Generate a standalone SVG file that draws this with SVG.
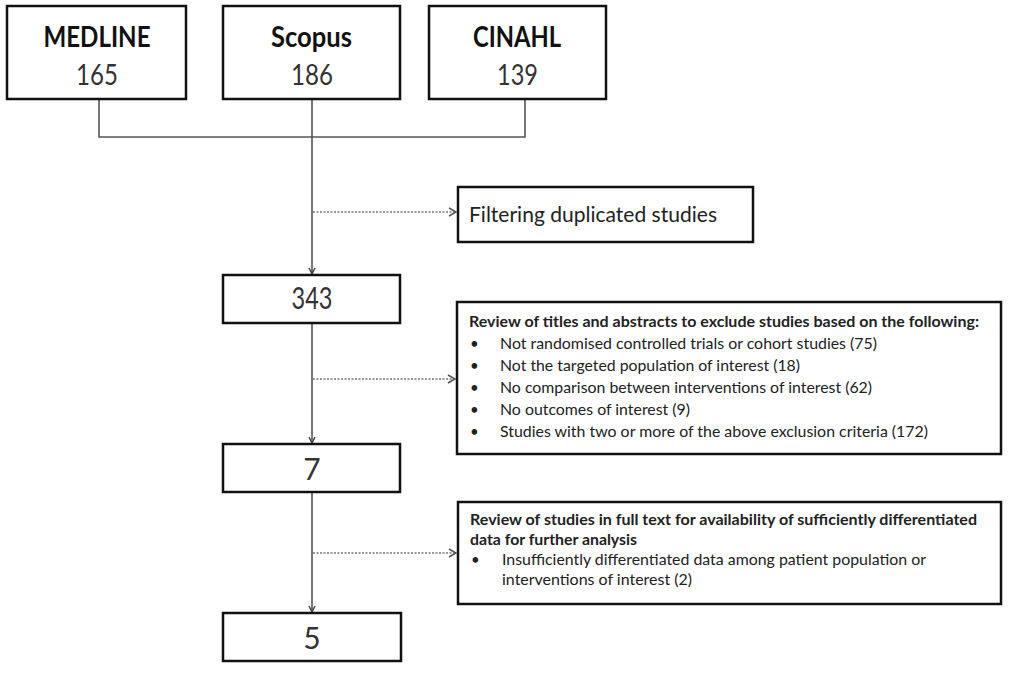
<svg xmlns="http://www.w3.org/2000/svg" width="1016" height="676" viewBox="0 0 1016 676">
<style>
.box{fill:#fff;stroke:#111;stroke-width:2.5}
.ln{fill:none;stroke:#555;stroke-width:1.6}
.dot{fill:none;stroke:#777;stroke-width:1.6;stroke-dasharray:2 1.5}
.t{font-family:Lato,"Open Sans","Liberation Sans",sans-serif;fill:#222}
.hd{font-size:28px;font-weight:bold;text-anchor:middle;fill:#111}
.num{font-size:28px;text-anchor:middle;fill:#333}
.big{font-size:30px;text-anchor:middle;fill:#333}
.s{font-size:15px}
.sb{font-size:15px;font-weight:bold}
</style>
<defs>
<marker id="ah" viewBox="0 0 8 8" refX="7" refY="4" markerWidth="8" markerHeight="8" markerUnits="userSpaceOnUse" orient="auto">
<path d="M1,1 L7,4 L1,7" fill="none" stroke="#444" stroke-width="1.5"/>
</marker>
<marker id="ah2" viewBox="0 0 10 10" refX="9" refY="5" markerWidth="10" markerHeight="10" markerUnits="userSpaceOnUse" orient="auto">
<path d="M2,1 L9,5 L2,9" fill="none" stroke="#555" stroke-width="1.6"/>
</marker>
</defs>
<rect width="1016" height="676" fill="#fff"/>
<g id="connectors">
<path class="ln" d="M99,99 V137 H525 V99"/>
<path class="ln" d="M312,99 V274" marker-end="url(#ah)"/>
<path class="ln" d="M312,323 V443" marker-end="url(#ah)"/>
<path class="ln" d="M312,492 V612" marker-end="url(#ah)"/>
<path class="dot" d="M313,212 H456" marker-end="url(#ah2)"/>
<path class="dot" d="M313,379 H455" marker-end="url(#ah2)"/>
<path class="dot" d="M313,553 H456" marker-end="url(#ah2)"/>
</g>
<g id="medline">
<rect class="box" x="7" y="6" width="179" height="93"/>
<text class="t hd" x="97" y="47" textLength="107" lengthAdjust="spacingAndGlyphs">MEDLINE</text>
<text class="t num" x="97" y="85" textLength="42" lengthAdjust="spacingAndGlyphs">165</text>
</g>
<g id="scopus">
<rect class="box" x="223" y="6" width="177" height="93"/>
<text class="t hd" x="311.5" y="47" textLength="81" lengthAdjust="spacingAndGlyphs">Scopus</text>
<text class="t num" x="312" y="85" textLength="42" lengthAdjust="spacingAndGlyphs">186</text>
</g>
<g id="cinahl">
<rect class="box" x="429" y="6" width="177" height="93"/>
<text class="t hd" x="517" y="47" textLength="88" lengthAdjust="spacingAndGlyphs">CINAHL</text>
<text class="t num" x="517.5" y="85" textLength="41" lengthAdjust="spacingAndGlyphs">139</text>
</g>
<g id="filtering">
<rect class="box" x="458" y="187" width="295" height="55"/>
<text class="t" x="469" y="222" font-size="21" textLength="248" lengthAdjust="spacingAndGlyphs">Filtering duplicated studies</text>
</g>
<g id="n343">
<rect class="box" x="223" y="275" width="177" height="48"/>
<text class="t big" x="312" y="309" textLength="41" lengthAdjust="spacingAndGlyphs">343</text>
</g>
<g id="review">
<rect class="box" x="457" y="302" width="544" height="152"/>
<text class="t sb" x="469" y="327" textLength="510" lengthAdjust="spacingAndGlyphs">Review of titles and abstracts to exclude studies based on the following:</text>
<g class="t s">
<text x="470" y="349">•</text><text x="500" y="349" textLength="377" lengthAdjust="spacingAndGlyphs">Not randomised controlled trials or cohort studies (75)</text>
<text x="470" y="371">•</text><text x="500" y="371" textLength="300" lengthAdjust="spacingAndGlyphs">Not the targeted population of interest (18)</text>
<text x="470" y="393">•</text><text x="500" y="393" textLength="372" lengthAdjust="spacingAndGlyphs">No comparison between interventions of interest (62)</text>
<text x="470" y="415">•</text><text x="500" y="415" textLength="190" lengthAdjust="spacingAndGlyphs">No outcomes of interest (9)</text>
<text x="470" y="437">•</text><text x="500" y="437" textLength="428" lengthAdjust="spacingAndGlyphs">Studies with two or more of the above exclusion criteria (172)</text>
</g>
</g>
<g id="n7">
<rect class="box" x="223" y="444" width="177" height="48"/>
<text class="t big" x="312" y="480">7</text>
</g>
<g id="fulltext">
<rect class="box" x="458" y="502" width="543" height="102"/>
<text class="t sb" x="470" y="525" textLength="507" lengthAdjust="spacingAndGlyphs">Review of studies in full text for availability of sufficiently differentiated</text>
<text class="t sb" x="470" y="545" textLength="167" lengthAdjust="spacingAndGlyphs">data for further analysis</text>
<g class="t s">
<text x="471" y="565">•</text><text x="502" y="565" textLength="424" lengthAdjust="spacingAndGlyphs">Insufficiently differentiated data among patient population or</text>
<text x="502" y="585" textLength="190" lengthAdjust="spacingAndGlyphs">interventions of interest (2)</text>
</g>
</g>
<g id="n5">
<rect class="box" x="223" y="613" width="178" height="48"/>
<text class="t big" x="312" y="649">5</text>
</g>
</svg>
